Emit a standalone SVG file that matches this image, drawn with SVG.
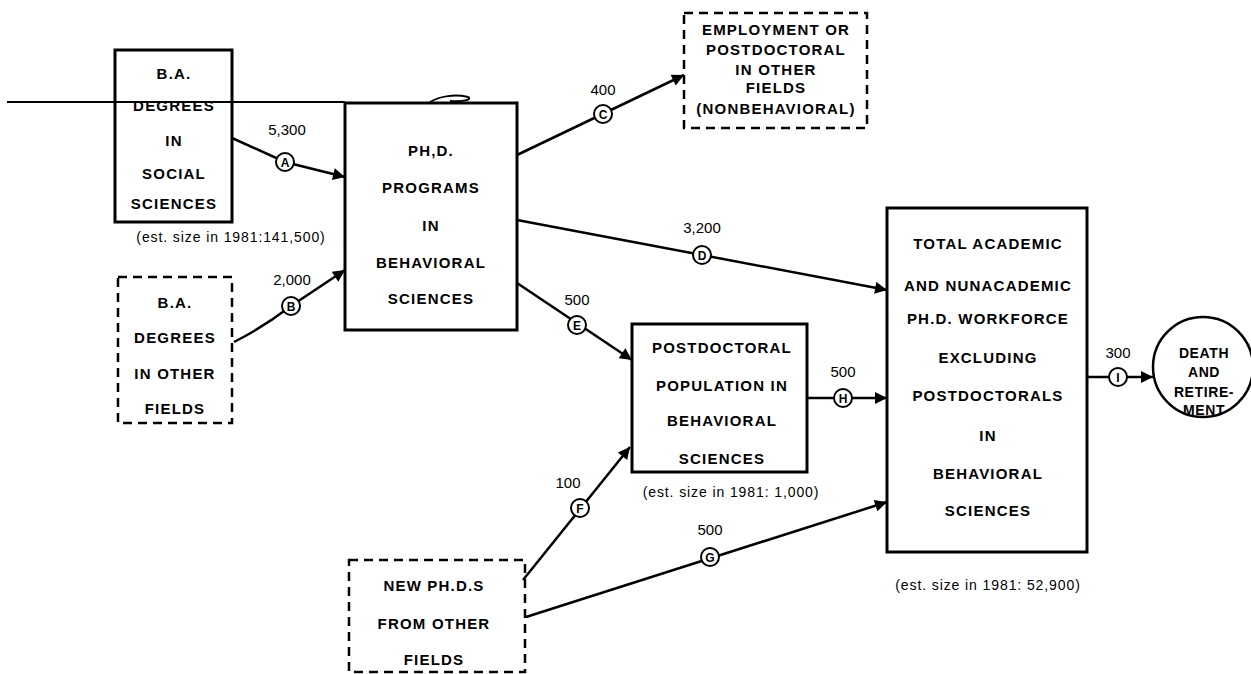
<svg xmlns="http://www.w3.org/2000/svg" width="1251" height="674" viewBox="0 0 1251 674">
<defs>
<style>
.box{fill:none;stroke:#000;stroke-width:3}
.dbox{fill:none;stroke:#000;stroke-width:2.5;stroke-dasharray:9 6}
.t{font-family:"Liberation Sans",Arial,sans-serif;font-weight:bold;font-size:15px;letter-spacing:1.2px;text-anchor:middle;fill:#000}
.d{font-family:"Liberation Sans",Arial,sans-serif;font-weight:bold;font-size:14px;letter-spacing:0.6px;text-anchor:middle;fill:#000}
.e{font-family:"Liberation Sans",Arial,sans-serif;font-size:14px;letter-spacing:0.9px;text-anchor:middle;fill:#000}
.n{font-family:"Liberation Sans",Arial,sans-serif;font-size:15px;text-anchor:middle;fill:#000}
.c{font-family:"Liberation Sans",Arial,sans-serif;font-weight:bold;font-size:12px;text-anchor:middle;fill:#000}
.ln{fill:none;stroke:#000;stroke-width:2.5}
.fc{fill:#fff;stroke:#000;stroke-width:2}
</style>
<marker id="arr" viewBox="0 0 10 10" refX="10" refY="5" markerWidth="16" markerHeight="12" markerUnits="userSpaceOnUse" orient="auto"><path d="M0,0 L10,5 L0,10 z" fill="#000"/></marker>
</defs>
<rect width="1251" height="674" fill="#fff"/>

<g id="artifact">
<path d="M7,102 L345,102" stroke="#000" stroke-width="2" fill="none"/>
<path d="M430,102 C440,96 455,94 468,97 C472,99 466,102 450,101" stroke="#000" stroke-width="2" fill="none"/>
</g>

<g id="connectors">
<path class="ln" d="M232,138 L285,162 L345,177" marker-end="url(#arr)"/>
<path class="ln" d="M234,342 Q262,328 291,306 L345,270" marker-end="url(#arr)"/>
<path class="ln" d="M517,155 L684,75" marker-end="url(#arr)"/>
<path class="ln" d="M517,220 L887,290" marker-end="url(#arr)"/>
<path class="ln" d="M517,283 L632,360" marker-end="url(#arr)"/>
<path class="ln" d="M523,580 L630,447" marker-end="url(#arr)"/>
<path class="ln" d="M526,617 L887,502" marker-end="url(#arr)"/>
<path class="ln" d="M807,398 L887,398" marker-end="url(#arr)"/>
<path class="ln" d="M1087,377 L1153,377" marker-end="url(#arr)"/>
<g id="flowA"><circle class="fc" cx="285" cy="162" r="9"/><text class="c" x="285" y="166.5">A</text><text class="n" x="287" y="135">5,300</text></g>
<g id="flowB"><circle class="fc" cx="291" cy="306" r="9"/><text class="c" x="291" y="310.5">B</text><text class="n" x="292" y="285">2,000</text></g>
<g id="flowC"><circle class="fc" cx="603" cy="114" r="9"/><text class="c" x="603" y="118.5">C</text><text class="n" x="603" y="95">400</text></g>
<g id="flowD"><circle class="fc" cx="702" cy="255" r="9"/><text class="c" x="702" y="259.5">D</text><text class="n" x="702" y="233">3,200</text></g>
<g id="flowE"><circle class="fc" cx="577" cy="325" r="9"/><text class="c" x="577" y="329.5">E</text><text class="n" x="577" y="305">500</text></g>
<g id="flowF"><circle class="fc" cx="580" cy="508" r="9"/><text class="c" x="580" y="512.5">F</text><text class="n" x="568" y="488">100</text></g>
<g id="flowG"><circle class="fc" cx="710" cy="557" r="9"/><text class="c" x="710" y="561.5">G</text><text class="n" x="710" y="535">500</text></g>
<g id="flowH"><circle class="fc" cx="843" cy="398" r="9"/><text class="c" x="843" y="402.5">H</text><text class="n" x="843" y="377">500</text></g>
<g id="flowI"><circle class="fc" cx="1118" cy="377" r="9"/><text class="c" x="1118" y="381.5">I</text><text class="n" x="1118" y="358">300</text></g>
</g>

<g id="ba-social">
<rect class="box" x="115" y="50" width="117" height="172"/>
<text class="t" x="174" y="79">B.A.</text>
<text class="t" x="174" y="111">DEGREES</text>
<text class="t" x="174" y="146">IN</text>
<text class="t" x="174" y="179">SOCIAL</text>
<text class="t" x="174" y="209">SCIENCES</text>
<text class="e" x="231" y="242">(est. size in 1981:141,500)</text>
</g>

<g id="ba-other">
<rect class="dbox" x="118" y="277" width="114" height="146"/>
<text class="t" x="175" y="308">B.A.</text>
<text class="t" x="175" y="343">DEGREES</text>
<text class="t" x="175" y="379">IN OTHER</text>
<text class="t" x="175" y="414">FIELDS</text>
</g>

<g id="phd-programs">
<rect class="box" x="345" y="103" width="172" height="227"/>
<text class="t" x="431" y="156">PH,D.</text>
<text class="t" x="431" y="193">PROGRAMS</text>
<text class="t" x="431" y="231">IN</text>
<text class="t" x="431" y="268">BEHAVIORAL</text>
<text class="t" x="431" y="304">SCIENCES</text>
</g>

<g id="employment">
<rect class="dbox" x="684" y="13" width="183" height="115"/>
<text class="t" x="776" y="35">EMPLOYMENT OR</text>
<text class="t" x="776" y="55">POSTDOCTORAL</text>
<text class="t" x="776" y="75">IN OTHER</text>
<text class="t" x="776" y="93">FIELDS</text>
<text class="t" x="776" y="114">(NONBEHAVIORAL)</text>
</g>

<g id="postdoc">
<rect class="box" x="632" y="324" width="175" height="148"/>
<text class="t" x="722" y="353">POSTDOCTORAL</text>
<text class="t" x="722" y="391">POPULATION IN</text>
<text class="t" x="722" y="426">BEHAVIORAL</text>
<text class="t" x="722" y="464">SCIENCES</text>
<text class="e" x="731" y="497">(est. size in 1981: 1,000)</text>
</g>

<g id="new-phds">
<rect class="dbox" x="349" y="560" width="176" height="112"/>
<text class="t" x="434" y="591">NEW PH.D.S</text>
<text class="t" x="434" y="629">FROM OTHER</text>
<text class="t" x="434" y="665">FIELDS</text>
</g>

<g id="workforce">
<rect class="box" x="887" y="208" width="200" height="344"/>
<text class="t" x="988" y="249">TOTAL ACADEMIC</text>
<text class="t" x="988" y="291">AND NUNACADEMIC</text>
<text class="t" x="988" y="324">PH.D. WORKFORCE</text>
<text class="t" x="988" y="363">EXCLUDING</text>
<text class="t" x="988" y="401">POSTDOCTORALS</text>
<text class="t" x="988" y="441">IN</text>
<text class="t" x="988" y="479">BEHAVIORAL</text>
<text class="t" x="988" y="516">SCIENCES</text>
<text class="e" x="988" y="590">(est. size in 1981: 52,900)</text>
</g>

<g id="death">
<circle cx="1203" cy="367" r="50" fill="none" stroke="#000" stroke-width="2.5"/>
<text class="d" x="1204" y="358">DEATH</text>
<text class="d" x="1204" y="377">AND</text>
<text class="d" x="1204" y="397">RETIRE-</text>
<text class="d" x="1204" y="415">MENT</text>
</g>
</svg>
